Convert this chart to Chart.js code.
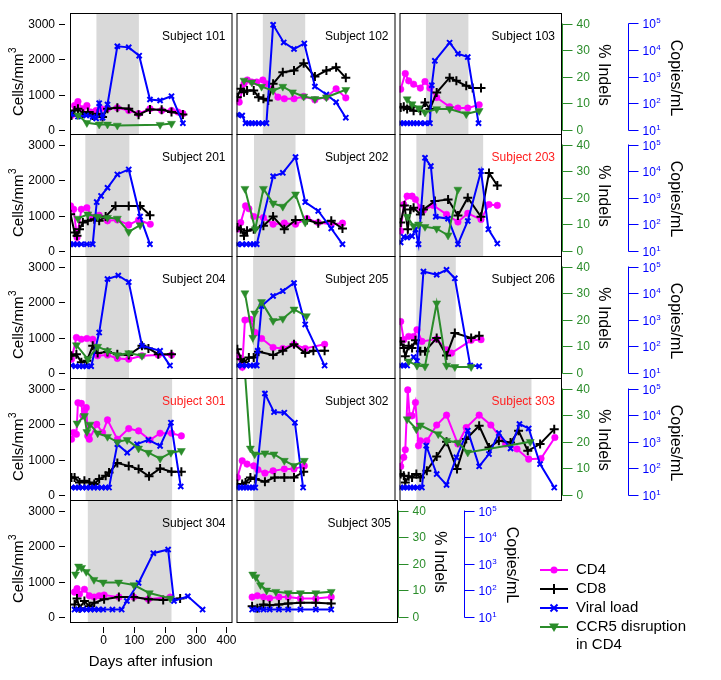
<!DOCTYPE html>
<html><head><meta charset="utf-8">
<script src="https://cdn.jsdelivr.net/npm/chart.js@4.4.1/dist/chart.umd.min.js"></script>
<style>
html,body{margin:0;padding:0;background:#fff;}
#wrap{position:relative;width:721px;height:680px;overflow:hidden;background:#fff;}
#wrap canvas{position:absolute;}
</style></head><body><div id="wrap"></div>
<script>
// ---------------- DATA (days after infusion, value) ----------------
const cd4_101=[[-103,410],[-93,690],[-82,800],[-68,600],[-53,690],[-40,505],[-23,550],[-7,600],[14,600],[46,625],[83,550],[115,460],[152,600],[190,550],[222,550],[243,505],[259,460]];
const cd8_101=[[-103,410],[-93,550],[-82,600],[-66,460],[-50,505],[-34,410],[-18,460],[-2,365],[14,600],[46,625],[83,600],[115,430],[152,580],[190,570],[222,505],[259,440]];
const vl_101=[[-106,39],[-82,32],[-55,35],[-34,31],[-23,27],[-13,102],[-2,29],[14,91],[46,14000],[83,12700],[117,6200],[152,140],[185,128],[222,187],[259,18]];
const ccr5_101=[[-82,5.5],[-53,2.7],[-13,2.1],[14,2.1],[46,1.7],[185,2.0],[222,2.4]];

const cd4_102=[[-99,785],[-83,1300],[-72,1410],[-57,1350],[-41,1350],[-21,1410],[-9,1300],[7,1160],[29,925],[50,880],[82,880],[114,945],[151,850],[189,925],[221,1160],[253,905]];
const cd8_102=[[-105,925],[-94,1160],[-83,1065],[-73,1110],[-51,1110],[-35,925],[-19,880],[-3,830],[13,1300],[45,1630],[82,1675],[114,1880],[151,1505],[189,1675],[221,1765],[253,1470]];
const vl_102=[[-105,37],[-89,35],[-78,18],[-67,18],[-57,18],[-46,18],[-35,18],[-22,18],[-9,18],[13,89000],[48,19500],[82,11000],[116,17800],[151,430],[189,215],[221,111],[253,29]];
const ccr5_102=[[-83,18.6],[-57,17.9],[-25,16.3],[13,14.8],[45,16.3],[77,14.2],[114,12.6],[151,11.7],[189,12.3],[253,15.1]];

const cd4_103=[[-104,1150],[-89,1590],[-78,1385],[-62,1290],[-40,1180],[-25,1365],[-9,1180],[13,915],[55,655],[82,617],[114,617],[151,710]];
const cd8_103=[[-104,635],[-94,655],[-83,590],[-72,655],[-62,540],[-40,540],[-25,775],[-9,590],[13,1055],[55,1475],[77,1385],[109,1245],[130,1180],[157,1180]];
const vl_103=[[-104,18],[-94,18],[-83,18],[-72,18],[-62,18],[-51,18],[-40,18],[-25,18],[-9,18],[-3,480],[7,3950],[55,19000],[82,7300],[114,5500],[149,18]];
const ccr5_103=[[-83,11.6],[-67,9.7],[-46,8.2],[-25,6.6],[13,7.9],[55,7.9],[109,6.0],[151,7.2]];

const cd4_201=[[-106,1270],[-96,1175],[-85,380],[-71,1175],[-53,1220],[-34,940],[-13,1005],[14,850],[46,875],[83,735],[115,875],[153,755]];
const cd8_201=[[-106,1035],[-93,520],[-85,430],[-77,615],[-66,800],[-50,850],[-29,895],[-13,850],[8,970],[40,1270],[83,1270],[120,1270],[152,1005]];
const vl_201=[[-106,18],[-96,18],[-85,18],[-71,18],[-53,18],[-34,18],[-21,690],[-7,1170],[14,2370],[46,7500],[83,11600],[120,196],[152,18]];
const ccr5_201=[[-82,12.2],[-50,13.8],[-18,12.9],[14,12.5],[46,12.2],[83,7.2],[120,9.7]];

const cd4_202=[[-105,615],[-94,800],[-78,1270],[-67,1190],[-51,970],[-19,940],[13,755],[50,785],[87,755],[125,915],[162,800],[205,755],[242,785]];
const cd8_202=[[-105,660],[-94,615],[-83,430],[-73,570],[-51,615],[-19,710],[13,970],[50,615],[87,875],[125,875],[162,785],[205,850],[242,635]];
const vl_202=[[-105,18],[-89,18],[-75,18],[-62,18],[-51,18],[-41,18],[13,6400],[45,8600],[87,34000],[119,690],[162,320],[205,70],[242,18]];
const ccr5_202=[[-80,23.4],[-46,8.2],[-19,23.4],[13,17.9],[45,16.7],[87,21.3],[119,10.7]];

const cd4_203=[[-104,560],[-94,1310],[-83,1545],[-67,1545],[-56,1450],[-40,1220],[-30,1150],[2,1285],[45,1030],[82,815],[114,1060],[157,890],[183,1310],[210,1285]];
const cd8_203=[[-104,800],[-92,1285],[-81,610],[-72,1170],[-62,1220],[-40,1030],[-30,1170],[7,1405],[50,1450],[82,1000],[114,1500],[157,965],[183,2200],[210,1845]];
const vl_203=[[-104,21],[-94,34],[-83,32],[-67,36],[-56,65],[-46,18],[-25,31600],[-6,15500],[10,193],[50,164],[82,18],[114,134],[157,10000],[181,65],[210,19]];
const ccr5_203=[[-83,12.9],[-62,9.4],[-46,10],[-25,9.1],[13,8.4],[50,5.9],[82,23.1]];

const cd4_204=[[-103,390],[-87,1000],[-71,950],[-53,970],[-34,950],[-18,485],[14,505],[46,410],[83,390],[126,485],[179,505],[222,505]];
const cd8_204=[[-103,485],[-87,530],[-71,300],[-53,345],[-34,765],[-18,560],[14,595],[46,530],[83,505],[126,765],[147,690],[179,530],[222,530]];
const vl_204=[[-103,19],[-90,18],[-77,18],[-66,18],[-55,18],[-39,18],[-13,330],[14,34000],[49,46000],[83,26000],[126,105],[185,68],[217,19]];
const ccr5_204=[[-87,10.5],[-50,5.2],[-18,9.9],[14,8.3],[46,6.7],[83,7.5],[126,6.5]];

const cd4_205=[[-105,485],[-89,160],[-80,1490],[-62,1510],[-46,1140],[-25,970],[13,720],[45,690],[82,810],[119,690],[183,810]];
const cd8_205=[[-105,670],[-94,390],[-83,300],[-67,440],[-51,440],[-35,600],[13,505],[45,625],[82,810],[119,560],[146,625],[183,625]];
const vl_205=[[-105,19],[-89,19],[-75,19],[-62,19],[-51,19],[-41,19],[-38,68],[-25,3270],[13,7800],[45,11900],[82,24000],[119,670],[183,19]];
const ccr5_205=[[-80,30],[-54,13.3],[-48,22.4],[-25,26.7],[13,19.6],[45,20.4],[82,23.9],[123,21.4]];

const cd4_206=[[-104,1450],[-94,940],[-78,1030],[-62,1030],[-51,1220],[-35,890],[13,955],[45,655],[61,560],[125,920],[157,940]];
const cd8_206=[[-104,890],[-94,705],[-89,470],[-78,770],[-67,705],[-56,920],[-40,610],[-25,610],[13,985],[45,490],[72,1125],[125,985],[151,1050]];
const vl_206=[[-104,19],[-94,19],[-83,19],[-62,40],[-51,28],[-30,65000],[13,49000],[45,75000],[72,36000],[122,19],[151,18]];
const ccr5_206=[[-78,4.4],[-51,2.8],[-25,2.5],[13,26.2],[45,2.8],[72,2.3],[125,2.3]];

const cd4_301=[[-103,1570],[-96,1760],[-87,1710],[-82,2600],[-71,2580],[-66,2230],[-61,2370],[-55,2460],[-50,1665],[-45,1570],[-21,1990],[-2,1760],[14,2115],[46,1570],[83,1870],[115,1805],[152,1550],[185,1740],[222,1740],[254,1665]];
const cd8_301=[[-103,495],[-93,495],[-77,355],[-61,400],[-45,355],[-29,310],[-13,450],[8,540],[19,635],[46,900],[83,820],[115,730],[149,525],[185,750],[222,655],[254,655]];
const vl_301=[[-103,19],[-90,19],[-80,19],[-67,19],[-55,19],[-42,19],[-30,19],[-18,19],[-5,19],[8,19],[19,19],[46,810],[78,390],[110,810],[147,1170],[185,700],[220,5200],[252,21]];
const ccr5_301=[[-85,26.9],[-61,29.7],[-53,23.7],[-43,26.5],[-18,23.2],[14,21.9],[46,19.9],[78,20.7],[115,17.5],[147,15.9],[185,13.7],[220,15.9],[254,16.6]];

const cd4_302=[[-105,495],[-89,965],[-73,870],[-51,820],[-37,710],[-14,615],[13,680],[50,730],[82,730],[116,820]];
const cd8_302=[[-105,310],[-89,310],[-78,355],[-62,495],[-46,450],[-14,375],[18,495],[50,495],[82,495],[114,655]];
const vl_302=[[-105,19],[-95,19],[-85,19],[-75,19],[-65,19],[-55,19],[-46,19],[-14,65000],[16,13000],[50,12400],[85,5200],[112,19]];
const ccr5_302=[[-80,46],[-62,17.5],[-48,15.3],[-14,15.7],[16,15.3],[50,12.9],[82,11],[116,12.9]];

const cd4_303=[[-104,805],[-94,1060],[-89,1275],[-81,2960],[-75,2230],[-67,2230],[-56,2605],[-46,1390],[-40,1530],[-19,1530],[13,1970],[45,2250],[82,1435],[109,1900],[151,2250],[189,1970],[237,1435],[274,1295],[312,1010],[352,1030],[397,1620]];
const cd8_303=[[-104,590],[-94,545],[-89,355],[-78,525],[-67,495],[-53,590],[-40,495],[-19,685],[13,1085],[45,1500],[79,730],[109,1575],[151,1950],[183,1340],[215,1530],[253,1480],[279,1810],[309,1245],[349,1435],[395,1855]];
const vl_303=[[-104,19],[-94,19],[-83,19],[-72,19],[-62,19],[-50,19],[-35,19],[-21,710],[13,61],[45,24],[77,260],[114,2600],[151,119],[183,345],[215,2110],[253,560],[282,4640],[312,3160],[349,145],[395,19]];
const ccr5_303=[[-83,28.5],[-53,24.7],[-40,26.2],[18,22.9],[45,20.4],[82,19.7],[114,16],[317,20]];

const cd4_304=[[-93,700],[-85,800],[-77,650],[-61,780],[-45,600],[-29,560],[-13,600],[3,620],[51,560],[99,560],[147,500],[218,560]];
const cd8_304=[[-93,350],[-85,520],[-77,250],[-61,450],[-45,300],[-29,400],[3,500],[51,560],[99,560],[147,500],[195,480],[250,520]];
const vl_304=[[-93,19],[-80,19],[-67,19],[-54,19],[-41,19],[-28,19],[-15,19],[0,19],[30,19],[60,19],[77,40],[115,190],[163,2500],[211,3400],[230,40],[275,60],[323,19]];
const ccr5_304=[[-90,16],[-80,19],[-70,18.5],[-55,17],[-30,14],[0,13],[50,13],[100,12],[150,9],[218,7]];

const cd4_305=[[-57,560],[-40,600],[-20,560],[0,530],[30,560],[60,560],[100,520],[150,520],[200,560]];
const cd8_305=[[-57,300],[-40,250],[-20,350],[0,330],[30,350],[60,380],[100,400],[150,400],[200,380]];
const vl_305=[[-57,19],[-40,19],[-20,19],[0,19],[30,19],[60,19],[100,19],[150,19],[200,19]];
const ccr5_305=[[-55,16],[-45,15],[-30,12],[-10,10],[20,9.5],[60,9],[100,9],[150,9],[200,9.5]];

const subjectIds=['101','102','103','201','202','203','204','205','206','301','302','303','304','305'];
const redSubjects=['203','301','303'];
const shadeStart=[-22,-21,-22,-58,-50,-53,-54,-53,-53,-57,-53,-53,-50,-50];
const shadeEnd=[116,119,116,85,87,164,84,86,75,224,84,321,222,78];
const cellTicks=[0,1000,2000,3000];
const indelTicks=[0,10,20,30,40];
const copiesTicks=[10,100,1000,10000,100000];
const dayTicks=[0,100,200,300,400];
const legendLabels=['CD4','CD8','Viral load','CCR5 disruption','in CD4'];

const DATA={
 '101':{cd4:cd4_101,cd8:cd8_101,vl:vl_101,ccr5:ccr5_101},
 '102':{cd4:cd4_102,cd8:cd8_102,vl:vl_102,ccr5:ccr5_102},
 '103':{cd4:cd4_103,cd8:cd8_103,vl:vl_103,ccr5:ccr5_103},
 '201':{cd4:cd4_201,cd8:cd8_201,vl:vl_201,ccr5:ccr5_201},
 '202':{cd4:cd4_202,cd8:cd8_202,vl:vl_202,ccr5:ccr5_202},
 '203':{cd4:cd4_203,cd8:cd8_203,vl:vl_203,ccr5:ccr5_203},
 '204':{cd4:cd4_204,cd8:cd8_204,vl:vl_204,ccr5:ccr5_204},
 '205':{cd4:cd4_205,cd8:cd8_205,vl:vl_205,ccr5:ccr5_205},
 '206':{cd4:cd4_206,cd8:cd8_206,vl:vl_206,ccr5:ccr5_206},
 '301':{cd4:cd4_301,cd8:cd8_301,vl:vl_301,ccr5:ccr5_301},
 '302':{cd4:cd4_302,cd8:cd8_302,vl:vl_302,ccr5:ccr5_302},
 '303':{cd4:cd4_303,cd8:cd8_303,vl:vl_303,ccr5:ccr5_303},
 '304':{cd4:cd4_304,cd8:cd8_304,vl:vl_304,ccr5:ccr5_304},
 '305':{cd4:cd4_305,cd8:cd8_305,vl:vl_305,ccr5:ccr5_305}
};

// ---------------- LAYOUT / STYLE ----------------
const MAGENTA='#ff00ff', BLACK='#000000', BLUE='#0000ff', GREEN='#2a8c2a', RED='#ff2020', SHADE='#d9d9d9';
const FONT='"Liberation Sans", Arial, sans-serif';
const COL_LEFT=[70,234,397], COL_W=[164,163,164];
const ROW_TOP=[13,134,256,378,500], ROW_H=[121,122,122,122,122];
const PX_PER_DAY=0.3125, ZERO_X=33.7;
const ZERO_OFF=117, TOP3000_OFF=10.5;
const CELLS_PER_PX=3000/(ZERO_OFF-TOP3000_OFF);

const wrap=document.getElementById('wrap');

function pts(a){return a.map(p=>({x:p[0],y:p[1]}));}

function supText(ctx,base,sup,x,y,fs,align){
  ctx.font=fs+'px '+FONT;
  const wb=ctx.measureText(base).width;
  ctx.font=Math.round(fs*0.68)+'px '+FONT;
  const ws=ctx.measureText(sup).width;
  let sx=x;
  if(align==='center') sx=x-(wb+ws)/2;
  else if(align==='right') sx=x-(wb+ws);
  ctx.textAlign='left';
  ctx.font=fs+'px '+FONT;
  ctx.fillText(base,sx,y);
  ctx.font=Math.round(fs*0.68)+'px '+FONT;
  ctx.fillText(sup,sx+wb+0.5,y-fs*0.42);
}

const panelPlugin={
  id:'panel',
  beforeDatasetsDraw(chart,args,o){
    const {ctx,chartArea:a,scales}=chart;
    const x1=scales.x.getPixelForValue(o.shade[0]), x2=scales.x.getPixelForValue(o.shade[1]);
    ctx.save();ctx.fillStyle=SHADE;ctx.fillRect(x1,a.top,x2-x1,a.bottom-a.top);ctx.restore();
  },
  afterDraw(chart,args,o){
    const {ctx,chartArea:a,scales}=chart;
    ctx.save();
    ctx.strokeStyle='#000';ctx.lineWidth=1;
    ctx.strokeRect(a.left+0.5,a.top+0.5,a.right-a.left,a.bottom-a.top);
    ctx.fillStyle=o.red?RED:'#000';ctx.font='12px '+FONT;ctx.textAlign='right';ctx.textBaseline='alphabetic';
    ctx.fillText('Subject '+o.id,a.right-6,a.top+26.5);
    ctx.textBaseline='middle';
    if(o.left){
      ctx.strokeStyle='#000';ctx.fillStyle='#000';ctx.font='12px '+FONT;ctx.textAlign='right';
      cellTicks.forEach(v=>{
        const py=Math.round(scales.y.getPixelForValue(v))+0.5;
        ctx.beginPath();ctx.moveTo(a.left-11,py);ctx.lineTo(a.left-5,py);ctx.stroke();
        ctx.fillText(String(v),a.left-15,py);
      });
      ctx.save();ctx.translate(a.left-53,a.top+69);ctx.rotate(-Math.PI/2);
      ctx.textBaseline='alphabetic';supText(ctx,'Cells/mm','3',0,5.5,15,'center');ctx.restore();
    }
    if(o.right){
      const xg=a.right+1.5;
      ctx.strokeStyle=GREEN;ctx.fillStyle=GREEN;ctx.font='12px '+FONT;ctx.textAlign='left';
      const g0=scales.y2.getPixelForValue(0), g1=scales.y2.getPixelForValue(40);
      ctx.beginPath();ctx.moveTo(xg,g0+0.5);ctx.lineTo(xg,g1);ctx.stroke();
      indelTicks.forEach(v=>{
        const py=Math.round(scales.y2.getPixelForValue(v))+0.5;
        ctx.beginPath();ctx.moveTo(xg,py);ctx.lineTo(xg+10,py);ctx.stroke();
        ctx.fillText(String(v),xg+14,py);
      });
      ctx.fillStyle='#000';
      ctx.save();ctx.translate(a.right+42,a.top+62);ctx.rotate(Math.PI/2);
      ctx.font='16px '+FONT;ctx.textAlign='center';ctx.textBaseline='middle';ctx.fillText('% Indels',0,0);ctx.restore();
      const xb=a.right+67.5;
      ctx.strokeStyle=BLUE;ctx.fillStyle=BLUE;
      const b0=scales.y3.getPixelForValue(10), b1=scales.y3.getPixelForValue(100000);
      ctx.beginPath();ctx.moveTo(xb,b0+0.5);ctx.lineTo(xb,b1);ctx.stroke();
      ctx.textBaseline='alphabetic';
      copiesTicks.forEach(v=>{
        const py=Math.round(scales.y3.getPixelForValue(v))+0.5;
        ctx.beginPath();ctx.moveTo(xb,py);ctx.lineTo(xb+10,py);ctx.stroke();
        supText(ctx,'10',String(Math.round(Math.log10(v))),xb+14,py+4.5,12,'left');
      });
      ctx.fillStyle='#000';
      ctx.save();ctx.translate(a.right+114,a.top+65);ctx.rotate(Math.PI/2);
      ctx.font='16px '+FONT;ctx.textAlign='center';ctx.textBaseline='middle';ctx.fillText('Copies/mL',0,0);ctx.restore();
    }
    if(o.bottom){
      ctx.strokeStyle='#000';ctx.fillStyle='#000';ctx.font='12px '+FONT;ctx.textAlign='center';ctx.textBaseline='top';
      dayTicks.forEach(v=>{
        const px=Math.round(scales.x.getPixelForValue(v))+0.5;
        ctx.beginPath();ctx.moveTo(px,a.bottom+5);ctx.lineTo(px,a.bottom+11);ctx.stroke();
        ctx.fillText(String(v),px,a.bottom+13);
      });
      ctx.font='15px '+FONT;ctx.textBaseline='middle';
      ctx.fillText('Days after infusion',(a.left+a.right)/2,a.bottom+40);
    }
    ctx.restore();
  }
};

subjectIds.forEach((id,i)=>{
  const row=Math.floor(i/3), col=i%3;
  const w=COL_W[col], h=ROW_H[row];
  const hasLeft=col===0;
  const hasRight=(col===2)||(row===4&&col===1);
  const hasBottom=(id==='304');
  const L=hasLeft?72:4, R=hasRight?135:4, T=16, B=hasBottom?62:16;
  const cv=document.createElement('canvas');
  cv.width=L+w+R;cv.height=T+h+B;
  cv.style.width=cv.width+'px';cv.style.height=cv.height+'px';
  cv.style.left=(COL_LEFT[col]-L)+'px';cv.style.top=(ROW_TOP[row]-T)+'px';
  wrap.appendChild(cv);
  const xmin=-ZERO_X/PX_PER_DAY, xmax=xmin+w/PX_PER_DAY;
  const ymax=3000+TOP3000_OFF*CELLS_PER_PX, ymin=-(h-ZERO_OFF)*CELLS_PER_PX;
  const d=DATA[id];
  new Chart(cv,{
    type:'line',
    data:{datasets:[
      {label:'CD4',data:pts(d.cd4),yAxisID:'y',borderColor:MAGENTA,backgroundColor:MAGENTA,pointBackgroundColor:MAGENTA,pointBorderColor:MAGENTA,pointStyle:'circle',pointRadius:3.3,pointBorderWidth:0.5,borderWidth:2,order:4},
      {label:'CD8',data:pts(d.cd8),yAxisID:'y',borderColor:BLACK,backgroundColor:BLACK,pointBackgroundColor:BLACK,pointBorderColor:BLACK,pointStyle:'cross',pointRadius:4.5,pointBorderWidth:2,borderWidth:2,order:3},
      {label:'Viral load',data:pts(d.vl),yAxisID:'y3',borderColor:BLUE,backgroundColor:BLUE,pointBackgroundColor:BLUE,pointBorderColor:BLUE,pointStyle:'crossRot',pointRadius:3.6,pointBorderWidth:2,borderWidth:2,order:2},
      {label:'CCR5 disruption in CD4',data:pts(d.ccr5),yAxisID:'y2',borderColor:GREEN,backgroundColor:GREEN,pointBackgroundColor:GREEN,pointBorderColor:GREEN,pointStyle:'triangle',pointRotation:180,pointRadius:4.6,pointBorderWidth:0.5,borderWidth:2,order:1}
    ]},
    options:{
      responsive:false,animation:false,devicePixelRatio:1,
      layout:{padding:{left:L,right:R,top:T,bottom:B}},
      elements:{line:{tension:0}},
      plugins:{legend:{display:false},tooltip:{enabled:false},
        panel:{id:id,red:redSubjects.includes(id),shade:[shadeStart[i],shadeEnd[i]],left:hasLeft,right:hasRight,bottom:hasBottom}},
      scales:{
        x:{type:'linear',display:false,min:xmin,max:xmax},
        y:{type:'linear',display:false,min:ymin,max:ymax},
        y2:{type:'linear',display:false,min:ymin/75,max:ymax/75},
        y3:{type:'logarithmic',display:false,min:Math.pow(10,1+ymin/750),max:Math.pow(10,1+ymax/750)}
      }
    },
    plugins:[panelPlugin]
  });
});

// ---------------- LEGEND ----------------
(function(){
  const cv=document.createElement('canvas');
  cv.width=200;cv.height=110;cv.style.left='520px';cv.style.top='555px';
  cv.style.width='200px';cv.style.height='110px';
  wrap.appendChild(cv);
  const ctx=cv.getContext('2d');
  const ys=[15,34,53,72];
  const cols=[MAGENTA,BLACK,BLUE,GREEN];
  ctx.lineWidth=2;
  ys.forEach((y,k)=>{
    ctx.strokeStyle=cols[k];ctx.fillStyle=cols[k];
    ctx.beginPath();ctx.moveTo(20,y);ctx.lineTo(48,y);ctx.stroke();
    const cx=34;
    ctx.beginPath();
    if(k===0){ctx.arc(cx,y,3.5,0,Math.PI*2);ctx.fill();}
    else if(k===1){ctx.moveTo(cx-5,y);ctx.lineTo(cx+5,y);ctx.moveTo(cx,y-5);ctx.lineTo(cx,y+5);ctx.stroke();}
    else if(k===2){ctx.moveTo(cx-3.5,y-3.5);ctx.lineTo(cx+3.5,y+3.5);ctx.moveTo(cx-3.5,y+3.5);ctx.lineTo(cx+3.5,y-3.5);ctx.stroke();}
    else {ctx.moveTo(cx-5,y-3.5);ctx.lineTo(cx+5,y-3.5);ctx.lineTo(cx,y+5);ctx.closePath();ctx.fill();}
  });
  ctx.fillStyle='#000';ctx.font='15px '+FONT;ctx.textBaseline='middle';ctx.textAlign='left';
  [15,34,53,72,90].forEach((y,k)=>ctx.fillText(legendLabels[k],56,y));
})();
</script></body></html>
